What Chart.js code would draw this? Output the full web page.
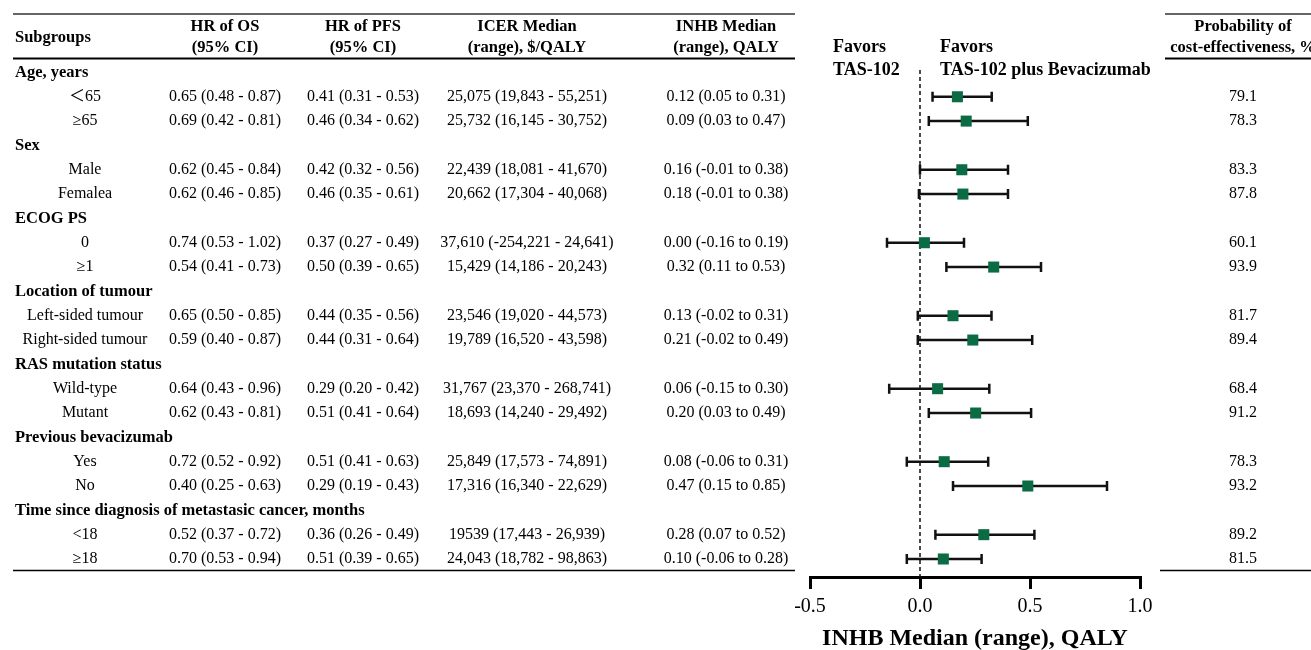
<!DOCTYPE html>
<html>
<head>
<meta charset="utf-8">
<script src="https://cdn.jsdelivr.net/npm/chart.js@4.4.1/dist/chart.umd.min.js"></script>
<style>
  html, body { margin: 0; padding: 0; background: #fff; }
  #c { display: block; }
</style>
</head>
<body>
<canvas id="c" width="1311" height="650"></canvas>
<script>
// Table rows, top to bottom (row index = y value on the hidden y scale)
const rowLabels = [
  "Age, years", "＜65", "≥65",
  "Sex", "Male", "Femalea",
  "ECOG PS", "0", "≥1",
  "Location of tumour", "Left-sided tumour", "Right-sided tumour",
  "RAS mutation status", "Wild-type", "Mutant",
  "Previous bevacizumab", "Yes", "No",
  "Time since diagnosis of metastasic cancer, months", "<18", "≥18",
]
const groupRows = [0, 3, 6, 9, 12, 15, 18]
const plotRows = [1, 2, 4, 5, 7, 8, 10, 11, 13, 14, 16, 17, 19, 20]

const hrOS = [
  "0.65 (0.48 - 0.87)", "0.69 (0.42 - 0.81)", "0.62 (0.45 - 0.84)", "0.62 (0.46 - 0.85)",
  "0.74 (0.53 - 1.02)", "0.54 (0.41 - 0.73)", "0.65 (0.50 - 0.85)", "0.59 (0.40 - 0.87)",
  "0.64 (0.43 - 0.96)", "0.62 (0.43 - 0.81)", "0.72 (0.52 - 0.92)", "0.40 (0.25 - 0.63)",
  "0.52 (0.37 - 0.72)", "0.70 (0.53 - 0.94)",
]
const hrPFS = [
  "0.41 (0.31 - 0.53)", "0.46 (0.34 - 0.62)", "0.42 (0.32 - 0.56)", "0.46 (0.35 - 0.61)",
  "0.37 (0.27 - 0.49)", "0.50 (0.39 - 0.65)", "0.44 (0.35 - 0.56)", "0.44 (0.31 - 0.64)",
  "0.29 (0.20 - 0.42)", "0.51 (0.41 - 0.64)", "0.51 (0.41 - 0.63)", "0.29 (0.19 - 0.43)",
  "0.36 (0.26 - 0.49)", "0.51 (0.39 - 0.65)",
]
const icerText = [
  "25,075 (19,843 - 55,251)", "25,732 (16,145 - 30,752)", "22,439 (18,081 - 41,670)",
  "20,662 (17,304 - 40,068)", "37,610 (-254,221 - 24,641)", "15,429 (14,186 - 20,243)",
  "23,546 (19,020 - 44,573)", "19,789 (16,520 - 43,598)", "31,767 (23,370 - 268,741)",
  "18,693 (14,240 - 29,492)", "25,849 (17,573 - 74,891)", "17,316 (16,340 - 22,629)",
  "19539 (17,443 - 26,939)", "24,043 (18,782 - 98,863)",
]
const inhbText = [
  "0.12 (0.05 to 0.31)", "0.09 (0.03 to 0.47)", "0.16 (-0.01 to 0.38)", "0.18 (-0.01 to 0.38)",
  "0.00 (-0.16 to 0.19)", "0.32 (0.11 to 0.53)", "0.13 (-0.02 to 0.31)", "0.21 (-0.02 to 0.49)",
  "0.06 (-0.15 to 0.30)", "0.20 (0.03 to 0.49)", "0.08 (-0.06 to 0.31)", "0.47 (0.15 to 0.85)",
  "0.28 (0.07 to 0.52)", "0.10 (-0.06 to 0.28)",
]
const probCE = [79.1, 78.3, 83.3, 87.8, 60.1, 93.9, 81.7, 89.4, 68.4, 91.2, 78.3, 93.2, 89.2, 81.5]

// forest plot marks, as drawn in the figure
const inhbMid = [0.17, 0.21, 0.19, 0.195, 0.02, 0.335, 0.15, 0.24, 0.08, 0.253, 0.11, 0.49, 0.29, 0.106]
const inhbLow = [0.057, 0.04, 0.0, -0.005, -0.15, 0.12, -0.01, -0.01, -0.14, 0.04, -0.06, 0.15, 0.07, -0.06]
const inhbHigh = [0.326, 0.49, 0.40, 0.40, 0.20, 0.55, 0.325, 0.51, 0.315, 0.505, 0.31, 0.85, 0.52, 0.28]

const xTicks = [-0.5, 0, 0.5, 1.0]

const SERIF = "'Liberation Serif', 'Times New Roman', 'Noto Sans CJK SC', serif"
const GREEN = "#0b6b44"

function text(ctx, str, x, y, font, align) {
  ctx.font = font
  ctx.textAlign = align || "center"
  ctx.fillText(str, x, y)
}

function rule(ctx, x1, x2, y, w) {
  ctx.beginPath()
  ctx.lineWidth = w
  ctx.moveTo(x1, y)
  ctx.lineTo(x2, y)
  ctx.stroke()
}

const forestTable = {
  id: "forestTable",
  beforeDatasetsDraw(chart) {
    const { ctx, chartArea } = chart
    const xs = chart.scales.x
    const ys = chart.scales.y
    ctx.save()
    ctx.strokeStyle = "#111"

    // no-effect line
    const x0 = xs.getPixelForValue(0)
    ctx.setLineDash([4, 3])
    ctx.lineWidth = 1.5
    ctx.beginPath()
    ctx.moveTo(x0, chartArea.top)
    ctx.lineTo(x0, chartArea.bottom)
    ctx.stroke()
    ctx.setLineDash([])

    // ranges with end caps
    ctx.lineWidth = 2.5
    plotRows.forEach((r, i) => {
      const y = ys.getPixelForValue(r)
      const a = xs.getPixelForValue(inhbLow[i])
      const b = xs.getPixelForValue(inhbHigh[i])
      ctx.beginPath()
      ctx.moveTo(a, y); ctx.lineTo(b, y)
      ctx.moveTo(a, y - 5); ctx.lineTo(a, y + 5)
      ctx.moveTo(b, y - 5); ctx.lineTo(b, y + 5)
      ctx.stroke()
    })
    ctx.restore()
  },
  afterDraw(chart) {
    const { ctx } = chart
    const ys = chart.scales.y
    const bold = `bold 16.5px ${SERIF}`
    const body = `16px ${SERIF}`
    ctx.save()
    ctx.fillStyle = "#000"
    ctx.textBaseline = "middle"

    // header
    text(ctx, "Subgroups", 15, 38, bold, "left")
    text(ctx, "HR of OS", 225, 27, bold)
    text(ctx, "(95% CI)", 225, 48, bold)
    text(ctx, "HR of PFS", 363, 27, bold)
    text(ctx, "(95% CI)", 363, 48, bold)
    text(ctx, "ICER Median", 527, 27, bold)
    text(ctx, "(range), $/QALY", 527, 48, bold)
    text(ctx, "INHB Median", 726, 27, bold)
    text(ctx, "(range), QALY", 726, 48, bold)
    text(ctx, "Probability of", 1243, 27, bold)
    text(ctx, "cost-effectiveness, %", 1243, 48, bold)

    const fav = `bold 18px ${SERIF}`
    text(ctx, "Favors", 833, 47, fav, "left")
    text(ctx, "TAS-102", 833, 70, fav, "left")
    text(ctx, "Favors", 940, 47, fav, "left")
    text(ctx, "TAS-102 plus Bevacizumab", 940, 70, fav, "left")

    // rows
    groupRows.forEach(r => {
      text(ctx, rowLabels[r], 15, ys.getPixelForValue(r), bold, "left")
    })
    plotRows.forEach((r, i) => {
      const y = ys.getPixelForValue(r)
      text(ctx, rowLabels[r], 85, y, body)
      text(ctx, hrOS[i], 225, y, body)
      text(ctx, hrPFS[i], 363, y, body)
      text(ctx, icerText[i], 527, y, body)
      text(ctx, inhbText[i], 726, y, body)
      text(ctx, probCE[i].toFixed(1), 1243, y, body)
    })

    // table rules
    ctx.strokeStyle = "#333"
    rule(ctx, 13, 795, 14, 1.5)
    rule(ctx, 1165, 1311, 14, 1.5)
    ctx.strokeStyle = "#000"
    rule(ctx, 13, 795, 58.5, 2)
    rule(ctx, 1165, 1311, 58.5, 2)
    rule(ctx, 13, 795, 570.5, 1.5)
    rule(ctx, 1160, 1311, 570.5, 1.5)
    ctx.restore()
  },
}

new Chart(document.getElementById("c"), {
  type: "scatter",
  data: {
    datasets: [{
      label: "INHB",
      data: plotRows.map((r, i) => ({ x: inhbMid[i], y: r })),
      pointStyle: "rect",
      pointRadius: 7.8,
      pointHoverRadius: 7.8,
      backgroundColor: GREEN,
      borderColor: GREEN,
      borderWidth: 0,
    }],
  },
  options: {
    responsive: false,
    animation: false,
    events: [],
    layout: { padding: { left: 810, right: 171, top: 70, bottom: 0 } },
    plugins: {
      legend: { display: false },
      tooltip: { enabled: false },
    },
    scales: {
      x: {
        type: "linear",
        min: -0.5,
        max: 1.0,
        afterBuildTicks: (s) => { s.ticks = xTicks.map(v => ({ value: v })) },
        afterFit: (s) => { s.height = 73 },
        ticks: {
          color: "#000",
          font: { family: SERIF, size: 20 },
          padding: 6,
          maxRotation: 0,
          autoSkip: false,
          callback: (v) => Number(v).toFixed(1),
        },
        grid: { drawOnChartArea: false, drawTicks: true, tickLength: 12, color: "#000", lineWidth: 3 },
        border: { color: "#000", width: 3 },
        title: {
          display: true,
          text: "INHB Median (range), QALY",
          color: "#000",
          font: { family: SERIF, size: 24, weight: "bold" },
          padding: { top: 0, bottom: -3 },
        },
      },
      y: {
        type: "linear",
        display: false,
        reverse: true,
        min: -0.1,
        max: 20.74,
      },
    },
  },
  plugins: [forestTable],
})
</script>
</body>
</html>
